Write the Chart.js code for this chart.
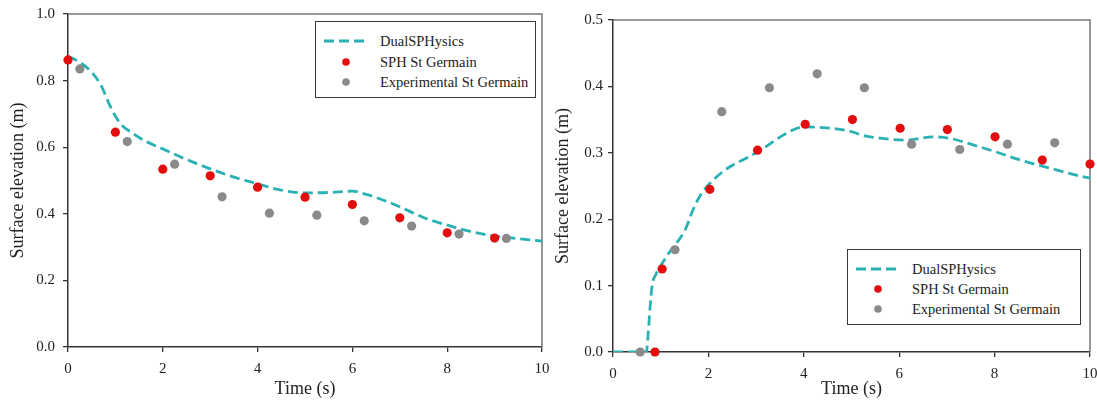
<!DOCTYPE html>
<html>
<head>
<meta charset="utf-8">
<script src="https://cdn.jsdelivr.net/npm/chart.js@4.4.1/dist/chart.umd.min.js"></script>
<style>
  html, body { margin: 0; padding: 0; background: #fff; }
  body { width: 1097px; height: 400px; position: relative; overflow: hidden; font-family: "Liberation Serif", "Times New Roman", serif; }
  canvas { position: absolute; top: 0; }
  .legend { position: absolute; border: 1.3px solid #3a3a3a; background: #fff; box-sizing: border-box; }
  .legend .row { position: absolute; left: 0; right: 0; height: 20px; line-height: 20px; font-size: 14.5px; color: #222; white-space: nowrap; }
  .legend svg { position: absolute; top: 0; left: 0; }
  .legend span { position: absolute; left: 64px; top: 0; }
</style>
</head>
<body>
<canvas id="left" width="560" height="400" style="left:0"></canvas>
<canvas id="right" width="549" height="400" style="left:548px"></canvas>
<div class="legend" id="leg-left" style="left:315px;top:21px;width:221px;height:77px"></div>
<div class="legend" id="leg-right" style="left:847px;top:249px;width:234px;height:76px"></div>
<script>
// ---- data ----
const xTicksStep = 2;

// left panel
const leftLineT = [0, 0.25, 0.5, 0.7, 0.9, 1.1, 1.35, 1.65, 2.0, 2.5, 3.0, 3.5, 4.0, 4.5, 5.0, 5.5, 6.0, 6.25, 6.5, 6.85, 7.2, 7.55, 8.0, 8.4, 8.95, 9.4, 10.0];
const leftLineV = [0.873, 0.855, 0.825, 0.785, 0.72, 0.672, 0.643, 0.617, 0.595, 0.563, 0.535, 0.51, 0.49, 0.471, 0.463, 0.464, 0.468, 0.46, 0.449, 0.43, 0.408, 0.386, 0.366, 0.35, 0.334, 0.327, 0.318];
const leftSphT  = [0, 1, 2, 3, 4, 5, 6, 7, 8, 9];
const leftSphV  = [0.862, 0.645, 0.534, 0.514, 0.48, 0.45, 0.428, 0.388, 0.343, 0.327];
const leftExpT  = [0.25, 1.25, 2.25, 3.25, 4.25, 5.25, 6.25, 7.25, 8.25, 9.25];
const leftExpV  = [0.835, 0.617, 0.549, 0.451, 0.402, 0.396, 0.379, 0.363, 0.339, 0.326];

// right panel
const rightLineT = [0, 0.3, 0.7, 0.74, 0.78, 0.82, 0.9, 1.0, 1.2, 1.35, 1.5, 1.7, 1.85, 2.1, 2.45, 2.85, 3.2, 3.6, 4.0, 4.4, 5.0, 5.2, 5.6, 6.15, 6.7, 7.05, 7.5, 8.0, 8.5, 9.15, 9.85, 10.0];
const rightLineV = [0, 0, 0, 0.03, 0.07, 0.1, 0.117, 0.13, 0.152, 0.166, 0.182, 0.218, 0.238, 0.259, 0.279, 0.294, 0.309, 0.328, 0.339, 0.338, 0.332, 0.327, 0.322, 0.319, 0.324, 0.322, 0.313, 0.302, 0.29, 0.277, 0.264, 0.262];
const rightSphT  = [0.88, 1.03, 2.03, 3.03, 4.03, 5.02, 6.02, 7.01, 8.01, 9.0, 10.0];
const rightSphV  = [0, 0.125, 0.245, 0.304, 0.343, 0.35, 0.337, 0.335, 0.324, 0.289, 0.283];
const rightExpT  = [0.57, 1.3, 2.28, 3.28, 4.28, 5.27, 6.26, 7.27, 8.27, 9.26];
const rightExpV  = [0, 0.154, 0.362, 0.398, 0.419, 0.398, 0.313, 0.305, 0.313, 0.315];

const seriesNames = ['DualSPHysics', 'SPH St Germain', 'Experimental St Germain'];

const LINE_COLOR = '#29b1b4';
const SPH_COLOR  = '#e30d0d';
const EXP_COLOR  = '#8a8a8a';
const FONT = '"Liberation Serif", "Times New Roman", serif';

const pts = (t, v) => t.map((x, i) => ({ x, y: v[i] }));

const framePlugin = {
  id: 'frame',
  beforeDatasetsDraw(chart) {
    const { ctx, chartArea: a } = chart;
    ctx.save();
    ctx.strokeStyle = '#777';
    ctx.lineWidth = 1.5;
    ctx.beginPath();
    ctx.moveTo(a.left, a.top);
    ctx.lineTo(a.right, a.top);
    ctx.lineTo(a.right, a.bottom);
    ctx.stroke();
    ctx.restore();
  }
};

function makeChart(id, o) {
  return new Chart(document.getElementById(id), {
    type: 'scatter',
    data: {
      datasets: [
        { label: seriesNames[1], data: pts(o.sphT, o.sphV), backgroundColor: SPH_COLOR, borderWidth: 0, pointRadius: 4.6, clip: false },
        { label: seriesNames[2], data: pts(o.expT, o.expV), backgroundColor: EXP_COLOR, borderWidth: 0, pointRadius: 4.6, clip: false },
        { label: seriesNames[0], data: pts(o.lineT, o.lineV), showLine: true, borderColor: LINE_COLOR, borderWidth: 2.8,
          borderDash: [10, 5], pointRadius: 0, cubicInterpolationMode: 'monotone', fill: false },
      ],
    },
    options: {
      responsive: false,
      animation: false,
      events: [],
      layout: { padding: { top: o.top, right: o.right, left: 0, bottom: 0 } },
      plugins: { legend: { display: false }, tooltip: { enabled: false } },
      scales: {
        x: {
          type: 'linear', min: 0, max: 10,
          ticks: { stepSize: xTicksStep, color: '#222', font: { family: FONT, size: 15 }, padding: 8, maxRotation: 0 },
          grid: { display: true, drawOnChartArea: false, drawTicks: true, tickLength: 5, color: '#333', lineWidth: 1.3 },
          border: { display: true, color: '#333', width: 1.5 },
          title: { display: true, text: 'Time (s)', color: '#222', font: { family: FONT, size: 18 }, padding: 0 },
          afterFit(s) { s.height = o.xH; s.paddingLeft = 0; s.paddingRight = 0; },
        },
        y: {
          type: 'linear', min: 0, max: o.yMax,
          ticks: { stepSize: o.yStep, color: '#222', font: { family: FONT, size: 15 }, padding: o.yPad,
                   callback: v => v.toFixed(1) },
          grid: { display: true, drawOnChartArea: false, drawTicks: true, tickLength: 5, color: '#333', lineWidth: 1.3 },
          border: { display: true, color: '#333', width: 1.5 },
          title: { display: true, text: 'Surface elevation (m)', color: '#222', font: { family: FONT, size: 18 }, padding: { top: o.titlePad, bottom: 0 } },
          afterFit(s) { s.width = o.yW; s.paddingTop = 0; s.paddingBottom = 0; },
        },
      },
    },
    plugins: [framePlugin],
  });
}

makeChart('left', {
  lineT: leftLineT, lineV: leftLineV, sphT: leftSphT, sphV: leftSphV, expT: leftExpT, expV: leftExpV,
  yMax: 1.0, yStep: 0.2, top: 14, right: 18, xH: 53, yW: 68, yPad: 8, titlePad: 7,
});

makeChart('right', {
  lineT: rightLineT, lineV: rightLineV, sphT: rightSphT, sphV: rightSphV, expT: rightExpT, expV: rightExpV,
  yMax: 0.5, yStep: 0.1, top: 20, right: 7, xH: 48, yW: 65, yPad: 5, titlePad: 4,
});

// legends (HTML boxes inside the plot areas)
function buildLegend(id, rowTops) {
  const el = document.getElementById(id);
  const symbols = [
    `<svg width="60" height="20"><line x1="8" y1="10" x2="48" y2="10" stroke="${LINE_COLOR}" stroke-width="2.8" stroke-dasharray="10 5"/></svg>`,
    `<svg width="60" height="20"><circle cx="30" cy="10" r="3.8" fill="${SPH_COLOR}"/></svg>`,
    `<svg width="60" height="20"><circle cx="30" cy="10" r="3.8" fill="${EXP_COLOR}"/></svg>`,
  ];
  el.innerHTML = seriesNames.map((name, i) =>
    `<div class="row" style="top:${rowTops[i]}px">${symbols[i]}<span>${name}</span></div>`).join('');
}
buildLegend('leg-left', [9, 30, 50]);
buildLegend('leg-right', [9, 29, 49]);
</script>
</body>
</html>
